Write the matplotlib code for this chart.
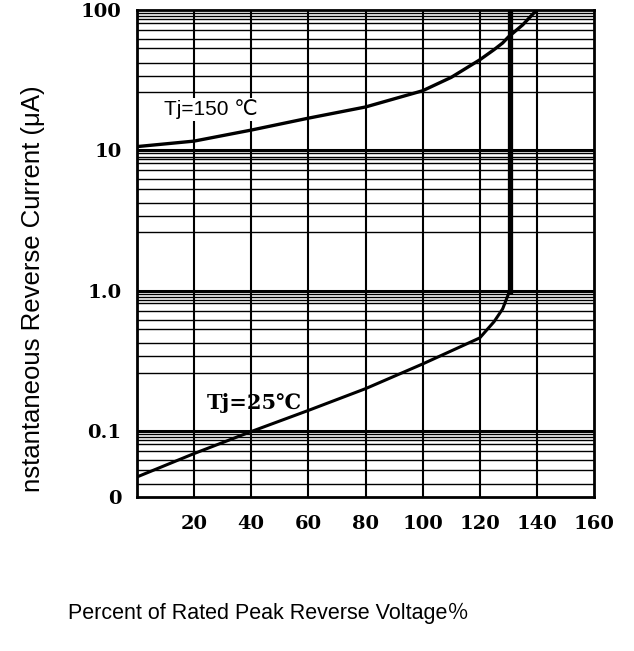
import matplotlib.pyplot as plt
from matplotlib.ticker import FixedLocator, NullFormatter

# Curve readings (percent of rated peak reverse voltage, current in uA)
x_150 = [0, 20, 40, 60, 80, 100, 110, 120, 125, 128, 130, 135, 140]
y_150 = [10.6, 11.6, 13.9, 16.9, 20.3, 26.5, 33, 44, 52, 58, 64, 78, 100]

x_25 = [0, 20, 40, 60, 80, 100, 120, 125, 128, 130.5, 130.5]
y_25 = [0.047, 0.069, 0.099, 0.14, 0.2, 0.3, 0.46, 0.6, 0.74, 1.0, 100]

x_ticks = [20, 40, 60, 80, 100, 120, 140, 160]
y_ticks = [0.034, 0.1, 1.0, 10, 100]
y_tick_labels = ['0', '0.1', '1.0', '10', '100']

# log-paper style minor lines inside each decade
grid_subs = [2.6, 3.4, 4.2, 5.3, 6.2, 7.2, 8.1, 8.6, 9.0, 9.5]

fig = plt.figure(figsize=(6.34, 6.51), dpi=100)
ax = fig.add_axes([0.216, 0.237, 0.721, 0.748])

ax.set_yscale('log')
ax.set_xlim(0, 160)
ax.set_ylim(0.034, 100)

# grid
minor_vals = [s * 10.0 ** e for e in range(-2, 2) for s in grid_subs]
minor_vals = [v for v in minor_vals if 0.034 < v < 100]
for v in minor_vals:
    ax.axhline(v, color='black', lw=1.0, zorder=1)
for v in [0.1, 1.0, 10]:
    ax.axhline(v, color='black', lw=2.2, zorder=1)
for v in x_ticks[:-1]:
    ax.axvline(v, color='black', lw=1.5, zorder=1)

# curves
ax.plot(x_150, y_150, color='black', lw=2.4, zorder=3)
ax.plot(x_25, y_25, color='black', lw=2.2, zorder=3)
ax.plot(x_25[-2:], y_25[-2:], color='black', lw=3.8, zorder=3)

ax.text(9.5, 19.5, 'Tj=150 ℃', fontsize=15, family=['Liberation Sans', 'DejaVu Sans'],
        va='center', ha='left', zorder=4,
        bbox=dict(facecolor='white', edgecolor='none', pad=1))
ax.text(24.5, 0.158, 'Tj=25℃', fontsize=15, fontweight='bold',
        family=['DejaVu Serif'], va='center', ha='left', zorder=4)

# ticks
ax.set_xticks(x_ticks)
ax.set_xticklabels([str(v) for v in x_ticks])
ax.yaxis.set_major_locator(FixedLocator(y_ticks))
ax.yaxis.set_minor_formatter(NullFormatter())
ax.yaxis.set_minor_locator(FixedLocator([]))
ax.set_yticklabels(y_tick_labels)
ax.tick_params(axis='y', length=0, pad=11)
ax.tick_params(axis='x', length=0, pad=13)
for lab in ax.get_xticklabels() + ax.get_yticklabels():
    lab.set_family('DejaVu Serif')
    lab.set_fontweight('bold')
    lab.set_fontsize(14)

for sp in ax.spines.values():
    sp.set_linewidth(2.0)
    sp.set_color('black')

fig.text(0.052, 0.556, 'nstantaneous Reverse Current (μA)', rotation=90,
         fontsize=18.5, family=['Liberation Sans', 'DejaVu Sans'], va='center', ha='center')
fig.text(0.423, 0.057, 'Percent of Rated Peak Reverse Voltage％', fontsize=15.5,
         family=['Liberation Sans', 'Noto Sans CJK SC'], va='center', ha='center')

fig.savefig('out.png', dpi=100, facecolor='white')
